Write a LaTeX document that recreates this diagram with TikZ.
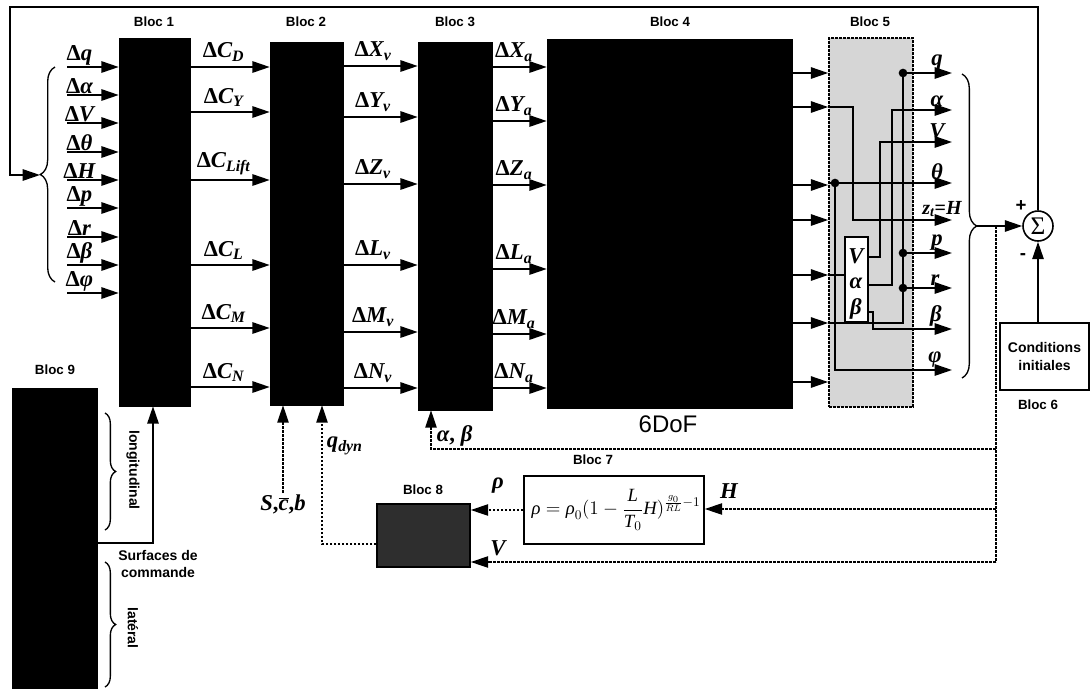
\documentclass[tikz,border=0pt]{standalone}
\usepackage{fontspec}
\setmainfont{Liberation Serif}
\newfontfamily\arialf{Liberation Sans}
\usetikzlibrary{arrows.meta,decorations.pathreplacing,fit,calc}
\newcommand\bi[1]{{\bfseries\itshape #1}}
\newcommand\Dl{{\bfseries\upshape Δ}}
\newcommand\lb[2]{\Dl\bi{#1}\textsubscript{\bi{#2}}}
\begin{document}
\begin{tikzpicture}[x=0.75pt,y=-0.75pt,
  arr/.style={line width=1.3pt,-{Triangle[length=13pt,width=8.5pt]}},
  ln/.style={line width=1.3pt},
  dsh/.style={line width=1pt,dash pattern=on 2pt off 1pt},
  blk/.style={fill=black,draw=black,inner sep=0pt},
  wbox/.style={fill=white,draw=black,line width=1.2pt,inner sep=0pt},
  ml/.style={font=\fontsize{17}{19}\selectfont\bfseries\itshape,inner sep=0.5pt},
  bl/.style={font=\arialf\bfseries\fontsize{10}{12}\selectfont,inner sep=1pt},
  dotc/.style={circle,fill=black,inner sep=0pt,minimum size=6.5pt},
  brc/.style={line width=1pt,decorate,decoration={brace,amplitude=#1}}]
\useasboundingbox (0,0) rectangle (1091,689);

% ---------- blocks
\foreach \n/\xa/\ya/\xb/\yb in {b1/119/38/190/406, b2/270/42/343/405, b3/418/42/492/410, b4/547/39/792/408, b9/12/388/97/688}{
  \coordinate (\n-a) at (\xa,\ya); \coordinate (\n-b) at (\xb,\yb);
  \node[blk,fit=(\n-a)(\n-b)] (\n) {};
}
\coordinate (b5-a) at (829,38); \coordinate (b5-b) at (913,407);
\node[fill=black!16,draw=black,line width=1.2pt,dash pattern=on 2pt off 1pt,inner sep=0pt,fit=(b5-a)(b5-b)] (b5) {};
\coordinate (b6-a) at (1000,323); \coordinate (b6-b) at (1089,390);
\node[wbox,fit=(b6-a)(b6-b)] (b6) {};
\node[bl,align=center,font=\arialf\bfseries\fontsize{10.5}{13}\selectfont] at (b6) {Conditions\\initiales};
\coordinate (b7-a) at (524,476); \coordinate (b7-b) at (704,544);
\node[wbox,fit=(b7-a)(b7-b)] (b7) {};
\coordinate (b8-a) at (377,504); \coordinate (b8-b) at (470,567);
\node[fill=black!82,draw=black,line width=1.2pt,inner sep=0pt,fit=(b8-a)(b8-b)] (b8) {};
\coordinate (v-a) at (845,237); \coordinate (v-b) at (868,322);

% block titles
\node[bl] at (154,22) {Bloc 1};
\node[bl] at (306,22) {Bloc 2};
\node[bl] at (455,22) {Bloc 3};
\node[bl] at (670,22) {Bloc 4};
\node[bl] at (870,22) {Bloc 5};
\node[bl] at (1038,405) {Bloc 6};
\node[bl] at (593,460) {Bloc 7};
\node[bl] at (423,490) {Bloc 8};
\node[bl] at (55,370) {Bloc 9};
\node[font=\arialf\fontsize{18}{20}\selectfont] at (668,424) {6DoF};

% ---------- inputs of bloc 1
\foreach \y/\t in {67/{\Dl\bi{q}},95/{\Dl\bi{α}},123/{\Dl\bi{V}},152/{\Dl\bi{θ}},180/{\Dl\bi{H}},208/{\Dl\bi{p}},237/{\Dl\bi{r}},265/{\Dl\bi{β}},293/{\Dl\bi{φ}}}{
  \coordinate (in) at (67,\y);
  \draw[arr] (in) -- (in -| b1.west) node[ml,pos=0.24,anchor=south] {\t};
}
\draw[brc=11pt] (55,282) -- (55,67);
\coordinate (lbt) at (40,175);

% ---------- bloc 1 -> bloc 2
\foreach \y/\t in {67/{\lb{C}{D}},112/{\lb{C}{Y}},180/{\lb{C}{Lift}},265/{\lb{C}{L}},328/{\lb{C}{M}},387/{\lb{C}{N}}}{
  \coordinate (rw) at (0,\y);
  \draw[arr] (rw -| b1.east) -- (rw -| b2.west) node[ml,pos=0.42,above=3pt] {\t};
}
% ---------- bloc 2 -> bloc 3
\foreach \y/\t in {66/{\lb{X}{v}},117/{\lb{Y}{v}},184/{\lb{Z}{v}},265/{\lb{L}{v}},332/{\lb{M}{v}},388/{\lb{N}{v}}}{
  \coordinate (rw) at (0,\y);
  \draw[arr] (rw -| b2.east) -- (rw -| b3.west) node[ml,pos=0.4,above=3pt] {\t};
}
% ---------- bloc 3 -> bloc 4
\foreach \y/\t in {67/{\lb{X}{a}},121/{\lb{Y}{a}},185/{\lb{Z}{a}},269/{\lb{L}{a}},334/{\lb{M}{a}},388/{\lb{N}{a}}}{
  \coordinate (rw) at (0,\y);
  \draw[arr] (rw -| b3.east) -- (rw -| b4.west) node[ml,pos=0.4,above=3pt] {\t};
}
% ---------- bloc 4 -> bloc 5
\foreach \y in {73,107,185,220,275,323,382}{
  \coordinate (rw) at (0,\y);
  \draw[arr] (rw -| b4.east) -- (rw -| b5.west);
}

% ---------- inside bloc 5
\node[wbox,fit=(v-a)(v-b)] (vab) {};
\node[ml] at (856,256) {V};
\node[ml] at (856,283) {α};
\node[ml] at (856,309) {β};
\coordinate (dq) at (903,73);
\coordinate (dp) at (903,253);
\coordinate (dr) at (903,288);
\coordinate (d6) at (903,323);
\coordinate (dt) at (835,183);
\draw[ln] (829,323) -- (d6) -- (dq);
\draw[ln] (829,183) -- (dt);
\draw[ln] (829,275) -- (vab.west |- 0,275);
\draw[arr] (dq) -- (952,73);
\draw[arr] (dp) -- (952,253);
\draw[arr] (dr) -- (952,288);
\draw[arr] (829,107) -- (853,107) -- (853,220) -- (952,220);
\draw[arr] (dt) -- (952,183);
\draw[arr] (dt) -- (835,370) -- (952,370);
\draw[arr] (868,257) -- (880,257) -- (880,142) -- (952,142);
\draw[arr] (868,285) -- (892,285) -- (892,110) -- (952,110);
\draw[arr] (868,312) -- (873,312) -- (873,329) -- (952,329);
\foreach \c in {dq,dp,dr,dt} \node[dotc] at (\c) {};
\node[ml,anchor=south] at (937,71) {q};
\node[ml,anchor=south] at (937,108) {α};
\node[ml,anchor=south] at (937,140) {V};
\node[ml,anchor=south] at (937,181) {θ};
\node[ml,anchor=south,font=\fontsize{15}{17}\selectfont\bfseries\itshape] at (942,218) {z\textsubscript{\bi{t}}{\upshape=}H};
\node[ml,anchor=south] at (937,251) {p};
\node[ml,anchor=south] at (935,286) {r};
\node[ml,anchor=south] at (936,327) {β};
\node[ml,anchor=south] at (935,368) {φ};

% ---------- right brace, sum, conditions
\draw[brc=11pt] (962,74) -- (962,378);
\coordinate (rbt) at (977,226);
\node[circle,draw,line width=1.2pt,minimum size=22.5pt,inner sep=0pt,font=\fontsize{19}{20}\selectfont] (sig) at (1038,226) {Σ};
\draw[arr] (rbt) -- (sig.west);
\node[font=\arialf\bfseries\fontsize{14}{15}\selectfont] at (1021,206) {+};
\node[font=\arialf\bfseries\fontsize{14}{15}\selectfont] at (1023,257) {-};
\draw[arr] (b6.north -| sig) -- (sig.south);
\coordinate (tl) at (10,7);
\draw[arr] (sig.north) |- (tl) |- (lbt);

% ---------- dashed feedback
\coordinate (fb1) at (996,226);
\coordinate (fb2) at (996,449);
\coordinate (fb3) at (996,509);
\coordinate (fb4) at (996,562);
\draw[dsh] (fb1) -- (fb4);
\coordinate (abc) at (431,449);
\draw[dsh,arr,line width=1pt] (fb2) -- (abc) -- (abc |- b3.south);
\node[ml,anchor=west] at (436,436) {α{\upshape,} β};
\draw[dsh,arr,line width=1pt] (fb3) -- (fb3 -| b7.east);
\node[ml] at (729,491) {H};
\draw[dsh,arr,line width=1pt] (b7.west) -- (b7.west -| b8.east);
\node[ml] at (498,486) {ρ};
\draw[dsh,arr,line width=1pt] (fb4) -- (fb4 -| b8.east);
\node[ml] at (498,548) {V};
\coordinate (qd) at (322,544);
\draw[dsh,arr,line width=1pt] (qd -| b8.west) -- (qd) -- (qd |- b2.south);
\node[ml,anchor=west] at (326,446) {q\textsubscript{\bi{dyn}}};
\coordinate (sc) at (283,493);
\draw[dsh,arr,line width=1pt] (sc) -- (sc |- b2.south);
\node[ml,anchor=north] at (283,494) {S{\upshape,}$\overline{\mbox{\bi{c}}}${\upshape,}b};

% formula
\node[font=\fontsize{14}{16}\selectfont] at (616,510) {$\mbox{\itshape ρ} = \mbox{\itshape ρ}_0(1-\displaystyle\frac{\mbox{\itshape L}}{\mbox{\itshape T}_0}\mbox{\itshape H})^{\frac{g_0}{RL}-1}$};

% ---------- bloc 9 and control surfaces
\coordinate (sf) at (153,543);
\draw[arr] (sf -| b9.east) -- (sf) -- (sf |- b1.south);
\draw[brc=8pt] (105,413) -- (105,530);
\draw[brc=8pt] (105,562) -- (105,687);
\node[bl,rotate=-90,font=\arialf\bfseries\fontsize{10.5}{12}\selectfont] at (133,470) {longitudinal};
\node[bl,rotate=-90,font=\arialf\bfseries\fontsize{10.5}{12}\selectfont] at (133,628) {latéral};
\node[bl,align=center,font=\arialf\bfseries\fontsize{10.5}{13}\selectfont] at (158,564) {Surfaces de\\commande};
\end{tikzpicture}
\end{document}
